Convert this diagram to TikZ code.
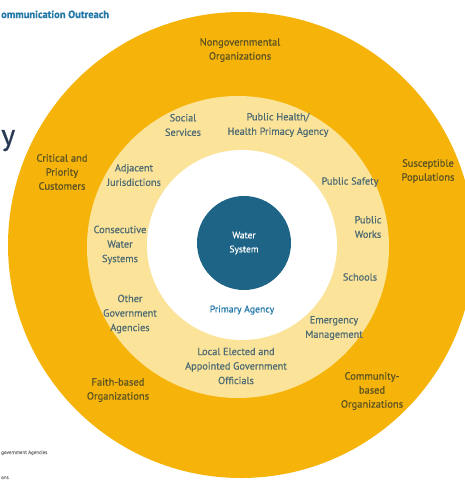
\documentclass[tikz,border=0pt]{standalone}
\usepackage{fontspec}
\setmainfont{PT Sans}[FakeBold=0.6]
\newfontfamily\semib{PT Sans}[FakeBold=0.6]
\definecolor{outerring}{HTML}{F6B40A}
\definecolor{innerring}{HTML}{FBE49A}
\definecolor{corecol}{HTML}{1D6486}
\definecolor{innertext}{HTML}{4E6A72}
\definecolor{outertext}{HTML}{5C5222}
\definecolor{titleblue}{HTML}{2478A8}
\definecolor{darkletter}{HTML}{2A3A55}
\begin{document}
\begin{tikzpicture}[x=1pt,y=-1pt,
  outerlbl/.style={align=center,text=outertext,font=\semib\fontsize{10.5}{14}\selectfont},
  innerlbl/.style={align=center,text=innertext,font=\semib\fontsize{10.3}{14.5}\selectfont},
  ring/.style={circle,draw=none,inner sep=0pt}]
\useasboundingbox (0,0) rectangle (465,483);
\clip (0,0) rectangle (465,483);
\fill[white] (0,0) rectangle (465,483);
% rings
\node[ring,fill=outerring,minimum size=466pt] (outer) at (241,245) {};
\node[ring,fill=innerring,minimum size=302pt] (inner) at (238,247) {};
\node[ring,fill=white,minimum size=190pt] (hole) at (242,245) {};
\node[ring,fill=corecol,minimum size=94pt] (core) at (244,243) {};
\node[align=center,text=white,font=\semib\fontsize{9.5}{14}\selectfont] (water) at (core) {Water\\System};
\node[text=titleblue,font=\semib\fontsize{9.8}{12}\selectfont] (primacy) at (242,310) {Primary Agency};
% outer ring labels
\node[outerlbl] (ngo) at (240,50) {Nongovernmental\\Organizations};
\node[outerlbl] (crit) at (62,172) {Critical and\\Priority\\Customers};
\node[outerlbl] (susc) at (428,171) {Susceptible\\Populations};
\node[outerlbl] (faith) at (118,390) {Faith-based\\Organizations};
\node[outerlbl] (cbo) at (372,391) {Community-\\based\\Organizations};
% inner ring labels
\node[innerlbl] (social) at (183,125) {Social\\Services};
\node[innerlbl] (health) at (278,125) {Public Health/\\Health Primacy Agency};
\node[innerlbl] (adj) at (134,175) {Adjacent\\Jurisdictions};
\node[innerlbl] (safety) at (350,182) {Public Safety};
\node[innerlbl] (works) at (368,227) {Public\\Works};
\node[innerlbl] (schools) at (360,277) {Schools};
\node[innerlbl] (emerg) at (334,328) {Emergency\\Management};
\node[innerlbl] (consec) at (120,245) {Consecutive\\Water\\Systems};
\node[innerlbl] (other) at (130,314) {Other\\Government\\Agencies};
\node[innerlbl] (local) at (236,366) {Local Elected and\\Appointed Government\\Officials};
% cropped page fragments
\node[anchor=base west,inner sep=0pt,text=titleblue,font=\bfseries\fontsize{10.5}{12}\selectfont] (title) at (1,18) {ommunication Outreach};
\node[anchor=base west,inner sep=0pt,text=darkletter,font=\fontsize{30}{30}\selectfont] (bigy) at (1,145) {y};
\node[anchor=base west,inner sep=0pt,text=gray,font=\fontsize{5}{6}\selectfont] (foot1) at (1,454) {government Agencies};
\node[anchor=base west,inner sep=0pt,text=gray,font=\fontsize{5}{6}\selectfont] (foot2) at (1,479) {ons};
\end{tikzpicture}
\end{document}
